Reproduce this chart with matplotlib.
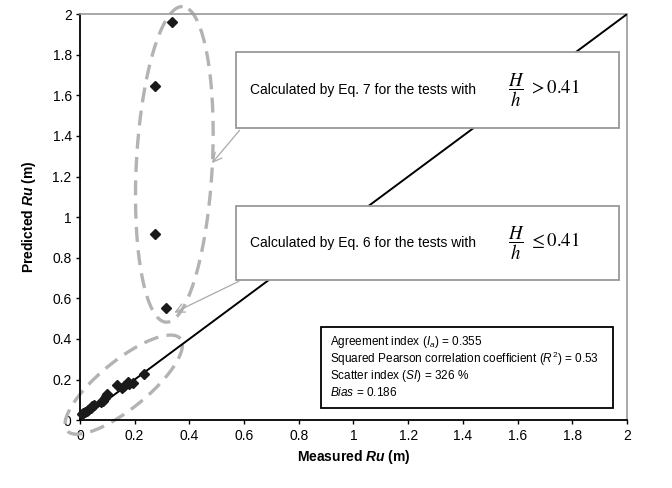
import matplotlib
matplotlib.use("Agg")
import matplotlib.pyplot as plt
import numpy as np

plt.rcParams['font.family'] = ['Liberation Sans', 'DejaVu Sans']
plt.rcParams['mathtext.fontset'] = 'custom'
plt.rcParams['mathtext.rm'] = 'Liberation Sans'
plt.rcParams['mathtext.it'] = 'Liberation Sans:italic'
plt.rcParams['mathtext.bf'] = 'Liberation Sans:bold:italic'

# measured vs predicted run-up (m)
measured_low = [0.235, 0.195, 0.18, 0.175, 0.16, 0.135, 0.155, 0.10, 0.095, 0.09,
                0.085, 0.078, 0.05, 0.045, 0.04, 0.03, 0.025, 0.02, 0.012, 0.008]
predicted_low = [0.225, 0.185, 0.18, 0.19, 0.168, 0.175, 0.16, 0.13, 0.12, 0.11,
                 0.095, 0.09, 0.075, 0.07, 0.06, 0.05, 0.045, 0.04, 0.035, 0.028]
measured_high = [0.335, 0.275, 0.275, 0.315]
predicted_high = [1.96, 1.645, 0.915, 0.552]

ticks = [0, 0.2, 0.4, 0.6, 0.8, 1, 1.2, 1.4, 1.6, 1.8, 2]
tick_labels = ['0', '0.2', '0.4', '0.6', '0.8', '1', '1.2', '1.4', '1.6', '1.8', '2']

stats = ['Agreement index ($I_a$) = 0.355',
         'Squared Pearson correlation coefficient ($R^2$) = 0.53',
         'Scatter index ($SI$) = 326 %',
         '$Bias$ = 0.186']


def dashed_ellipse(ax, cx, cy, a, b, ang):
    # a, b semi-axes in pixels, ang in degrees (screen space)
    t = np.linspace(0, 2 * np.pi, 300)
    px, py = ax.transData.transform((cx, cy))
    r = np.deg2rad(ang)
    xs = px + a * np.cos(t) * np.cos(r) - b * np.sin(t) * np.sin(r)
    ys = py + a * np.cos(t) * np.sin(r) + b * np.sin(t) * np.cos(r)
    xy = ax.transData.inverted().transform(np.column_stack([xs, ys]))
    ax.plot(xy[:, 0], xy[:, 1], color='#b3b3b3', lw=2.4, ls=(0, (4.5, 2.5)),
            clip_on=False, zorder=2)


fig = plt.figure(figsize=(6.72, 4.88), dpi=100)
ax = fig.add_axes([0.119, 0.139, 0.814, 0.832])
ax.set_xlim(0, 2)
ax.set_ylim(0, 2)

ax.plot([0, 2], [0, 2], color='black', lw=1.4, zorder=3)
ax.plot(measured_low + measured_high, predicted_low + predicted_high, 'D',
        color='#1a1a1a', ms=5.5, ls='none', zorder=4, clip_on=False)

dashed_ellipse(ax, 0.345, 1.26, 158, 38, 87)
dashed_ellipse(ax, 0.16, 0.175, 73, 24, 39)

ax.set_xticks(ticks)
ax.set_xticklabels(tick_labels)
ax.set_yticks(ticks)
ax.set_yticklabels(tick_labels)
ax.tick_params(direction='out', length=3, width=1, labelsize=10, pad=3)
for s in ['left', 'bottom']:
    ax.spines[s].set_linewidth(1.3)
for s in ['top', 'right']:
    ax.spines[s].set_color('#999999')
    ax.spines[s].set_linewidth(1.2)

ax.set_xlabel(r'Measured $\mathbf{Ru}$ (m)', fontsize=10, fontweight='bold', labelpad=4)
ax.set_ylabel(r'Predicted $\mathbf{Ru}$ (m)', fontsize=10, fontweight='bold', labelpad=10)

# annotation boxes
for top, bottom, txt, frac in [(0.906, 0.719, 'Calculated by Eq. 7 for the tests with', r'$\dfrac{H}{h}\ {>}0.41$'),
                               (0.527, 0.345, 'Calculated by Eq. 6 for the tests with', r'$\dfrac{H}{h}\ {\leq}0.41$')]:
    ax.add_patch(plt.Rectangle((0.285, bottom), 0.7, top - bottom, transform=ax.transAxes,
                               facecolor='white', edgecolor='#999999', lw=1.3, zorder=5))
    mid = (top + bottom) / 2
    ax.text(0.311, mid, txt, transform=ax.transAxes, fontsize=10, va='center', zorder=6)
    ax.text(0.783, mid, frac, transform=ax.transAxes, fontsize=13.5, va='center',
            math_fontfamily='stix', zorder=6)

ax.annotate('', xy=(0.238, 0.628), xytext=(0.295, 0.719), xycoords='axes fraction',
            arrowprops=dict(arrowstyle='->', color='#aaaaaa', lw=0.9, mutation_scale=16), zorder=3)
ax.annotate('', xy=(0.168, 0.262), xytext=(0.295, 0.345), xycoords='axes fraction',
            arrowprops=dict(arrowstyle='->', color='#aaaaaa', lw=0.9, mutation_scale=16), zorder=3)

# statistics box
ax.add_patch(plt.Rectangle((0.44, 0.03), 0.535, 0.2, transform=ax.transAxes,
                           facecolor='white', edgecolor='black', lw=1.3, zorder=5))
for i, line in enumerate(stats):
    ax.text(0.458, 0.193 - i * 0.042, line, transform=ax.transAxes, fontsize=8.5,
            va='center', zorder=6)

fig.savefig('out.png', dpi=100)
